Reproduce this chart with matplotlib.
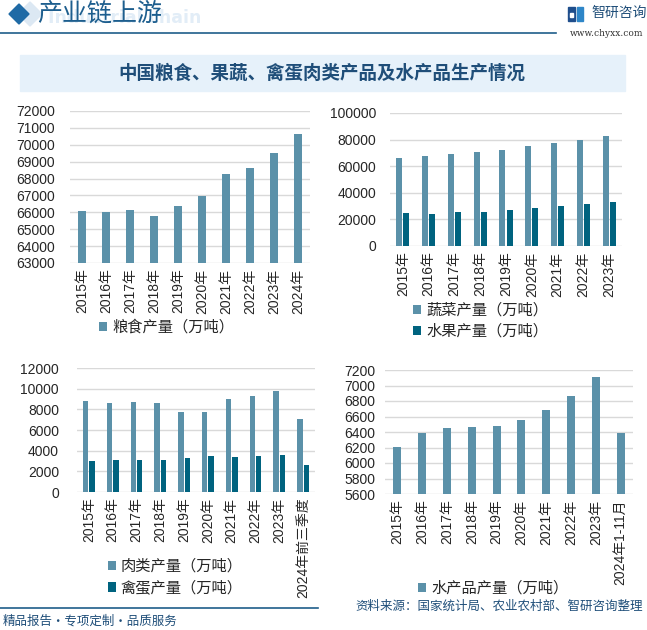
import matplotlib
matplotlib.use("Agg")
import matplotlib.pyplot as plt
from matplotlib.patches import Rectangle, Polygon
from matplotlib.lines import Line2D
import numpy as np

plt.rcParams['font.family'] = ['Liberation Sans', 'Noto Sans CJK SC', 'DejaVu Sans']

# ---------------- data ----------------
years_grain = ["2015年", "2016年", "2017年", "2018年", "2019年", "2020年", "2021年", "2022年", "2023年", "2024年"]
grain = [66060, 66044, 66161, 65789, 66384, 66949, 68285, 68653, 69541, 70650]

years_veg = ["2015年", "2016年", "2017年", "2018年", "2019年", "2020年", "2021年", "2022年", "2023年"]
vegetables = [66425, 67434, 69193, 70347, 72103, 74913, 77549, 79997, 82868]
fruits = [24525, 24405, 25242, 25688, 27401, 28692, 29970, 31296, 32744]

years_meat = ["2015年", "2016年", "2017年", "2018年", "2019年", "2020年", "2021年", "2022年", "2023年", "2024年前三季度"]
meat = [8825, 8628, 8731, 8625, 7759, 7748, 8990, 9328, 9748, 7086]
eggs = [3046, 3095, 3096, 3128, 3309, 3468, 3409, 3456, 3563, 2638]

years_aqua = ["2015年", "2016年", "2017年", "2018年", "2019年", "2020年", "2021年", "2022年", "2023年", "2024年1-11月"]
aquatic = [6206, 6386, 6450, 6465, 6477, 6549, 6690, 6869, 7116, 6384]

LIGHT = "#5B91A9"
DARK = "#00637F"
GRID = "#D9D9D9"
TXT = "#262626"
W, H = 647, 630

fig = plt.figure(figsize=(W / 100, H / 100), dpi=100)
fig.patch.set_facecolor("white")

def ax_px(l, t, r, b):
    return fig.add_axes([l / W, 1 - b / H, (r - l) / W, (b - t) / H])

def fx(x):
    return x / W

def fy(y):
    return 1 - y / H

FS = 10
LFS = 11

def style(ax, ylo, yhi, step, ypad, xpad=4):
    ax.set_ylim(ylo, yhi)
    ax.set_yticks(np.arange(ylo, yhi + step / 2, step))
    ax.yaxis.grid(True, color=GRID, linewidth=1)
    ax.set_axisbelow(True)
    for s in ax.spines.values():
        s.set_visible(False)
    ax.tick_params(axis="both", length=0, labelsize=FS, colors=TXT)
    ax.tick_params(axis="y", pad=ypad)
    ax.tick_params(axis="x", pad=xpad)
    ax.set_facecolor("none")
    ax.yaxis.set_major_formatter(matplotlib.ticker.FuncFormatter(lambda v, p: f"{int(v)}"))

def leg(ax, x0, y0):
    ax.legend(loc="upper left", bbox_to_anchor=(fx(x0), fy(y0)), bbox_transform=fig.transFigure,
              frameon=False, fontsize=LFS, handlelength=0.55, handleheight=0.55, handletextpad=0.3,
              labelcolor=TXT, borderaxespad=0, borderpad=0, labelspacing=0.45)

# ---------------- panel 1 : grain ----------------
ax1 = ax_px(70, 111, 310, 263)
x = np.arange(len(years_grain))
ax1.bar(x, grain, width=0.31, color=LIGHT, label="粮食产量（万吨）")
ax1.set_xlim(-0.5, len(years_grain) - 0.5)
ax1.set_xticks(x)
ax1.set_xticklabels(years_grain, rotation=90)
style(ax1, 63000, 72000, 1000, 11)
leg(ax1, 99, 320)

# ---------------- panel 2 : vegetables / fruits ----------------
ax2 = ax_px(390, 113, 622, 246)
x = np.arange(len(years_veg))
bw = 0.235
ax2.bar(x - bw / 2 - 0.02, vegetables, width=bw, color=LIGHT, label="蔬菜产量（万吨）")
ax2.bar(x + bw / 2 + 0.02, fruits, width=bw, color=DARK, label="水果产量（万吨）")
ax2.set_xlim(-0.5, len(years_veg) - 0.5)
ax2.set_xticks(x)
ax2.set_xticklabels(years_veg, rotation=90)
style(ax2, 0, 100000, 20000, 10)
leg(ax2, 413, 303)

# ---------------- panel 3 : meat / eggs ----------------
ax3 = ax_px(77, 368, 315, 492)
x = np.arange(len(years_meat))
bw = 0.23
ax3.bar(x - bw / 2 - 0.02, meat, width=bw, color=LIGHT, label="肉类产量（万吨）")
ax3.bar(x + bw / 2 + 0.02, eggs, width=bw, color=DARK, label="禽蛋产量（万吨）")
ax3.set_xlim(-0.5, len(years_meat) - 0.5)
ax3.set_xticks(x)
ax3.set_xticklabels(years_meat, rotation=90)
style(ax3, 0, 12000, 2000, 13)
leg(ax3, 108, 559)

# ---------------- panel 4 : aquatic ----------------
ax4 = ax_px(385, 370, 633, 494)
x = np.arange(len(years_aqua))
ax4.bar(x, aquatic, width=0.32, color=LIGHT, label="水产品产量（万吨）")
ax4.set_xlim(-0.5, len(years_aqua) - 0.5)
ax4.set_xticks(x)
ax4.set_xticklabels(years_aqua, rotation=90)
style(ax4, 5600, 7200, 200, 7)
leg(ax4, 418, 581)

# ---------------- header ----------------
fig.patches.append(Polygon([[fx(30), fy(2)], [fx(42), fy(14)], [fx(30), fy(26)], [fx(18), fy(14)]],
                           closed=True, transform=fig.transFigure, color="#DCE8F3", zorder=0))
fig.patches.append(Polygon([[fx(19), fy(4)], [fx(29), fy(14)], [fx(19), fy(24)], [fx(9), fy(14)]],
                           closed=True, transform=fig.transFigure, color="#1F6AA5", zorder=1))
fig.text(fx(48), fy(18), "Industrial chain", fontsize=12.5, fontweight="bold", color="#E2EDF7",
         va="center", ha="left", zorder=0, family=["DejaVu Sans"])
fig.text(fx(37), fy(14), "产业链上游", fontsize=18, color="#1D5E8E", va="center", ha="left",
         family=["Noto Sans CJK SC"], zorder=2)
fig.add_artist(Line2D([0, fx(556)], [fy(33), fy(33)], transform=fig.transFigure, color="#1F5E8A", lw=1.2))

# logo
fig.patches.append(Rectangle((fx(568), fy(21)), 7 / W, 14 / H, transform=fig.transFigure, color="#1F4E8C"))
fig.patches.append(Rectangle((fx(577), fy(21)), 6 / W, 14 / H, transform=fig.transFigure, color="#2E86C8"))
fig.patches.append(Rectangle((fx(570), fy(17)), 3 / W, 4 / H, transform=fig.transFigure, color="white"))
fig.text(fx(591), fy(13), "智研咨询", fontsize=10, color="#1F4E79", va="center", ha="left",
         family=["Noto Sans CJK SC"])
fig.text(fx(643), fy(33), "www.chyxx.com", fontsize=6.5, color="#333333", va="center", ha="right",
         family=["DejaVu Serif"])

# title box
fig.patches.append(Rectangle((fx(20), fy(91)), 605 / W, 36 / H, transform=fig.transFigure,
                             color="#E6F1FA", zorder=0))
fig.text(fx(322), fy(73), "中国粮食、果蔬、禽蛋肉类产品及水产品生产情况", fontsize=13.3, fontweight="bold",
         color="#1F4E79", va="center", ha="center", family=["Noto Sans CJK SC"])

# footer
fig.add_artist(Line2D([0, fx(318)], [fy(608), fy(608)], transform=fig.transFigure, color="#1F5E8A", lw=1.2))
fig.text(fx(3), fy(621), "精品报告・专项定制・品质服务", fontsize=9, color="#1F4E79", va="center", ha="left",
         family=["Noto Sans CJK SC"])
fig.text(fx(643), fy(606), "资料来源：国家统计局、农业农村部、智研咨询整理", fontsize=9, color="#1F4E79",
         va="center", ha="right", family=["Noto Sans CJK SC"])

fig.savefig("out.png", dpi=100, facecolor="white")
